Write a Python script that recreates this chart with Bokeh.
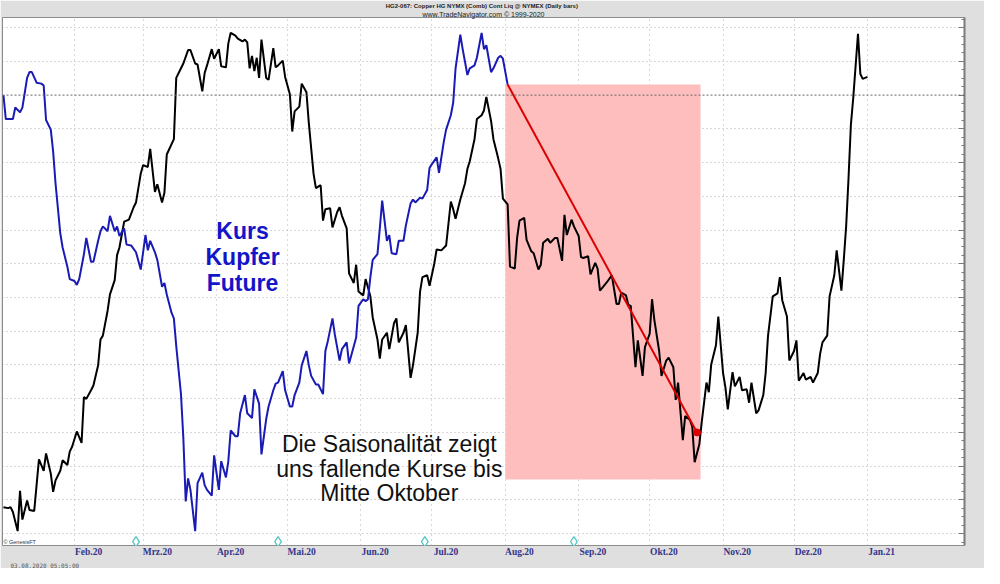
import pandas as pd
from bokeh.plotting import figure
from bokeh.models import Range1d, FixedTicker, LinearAxis, Span, Label, Grid, Title
from bokeh.embed import file_html
from bokeh.resources import INLINE

# ---------------- data ----------------
# x: days since 2020-01-01, y: chart index units (0 = bottom of panel)
BASE = pd.Timestamp("2020-01-01")

blue_days = [1, 2, 5, 6, 8, 9, 11, 12, 13, 15, 17, 18, 19, 21, 22, 23, 25, 26, 28, 29,
             31, 32, 33, 35, 36, 38, 39, 41, 42, 43, 45, 46, 48, 49, 50, 52, 53, 55, 57, 59,
             61, 62, 63, 65, 66, 68, 69, 70, 72, 73, 74, 76, 77, 78, 79, 80, 82, 83, 85, 86,
             87, 89, 90, 92, 93, 95, 96, 97, 99, 100, 101, 103, 104, 106, 107, 109, 110, 112, 113, 115,
             116, 117, 119, 120, 122, 123, 124, 126, 127, 129, 130, 131, 133, 134, 136, 137, 138, 140, 141, 143,
             144, 146, 147, 149, 150, 151, 153, 154, 155, 156, 157, 159, 160, 161, 163, 164, 165, 167, 168, 170,
             171, 173, 174, 175, 177, 178, 180, 181, 182, 184, 185, 187, 188, 190, 191, 192, 194, 195, 197, 198,
             200, 201, 203, 204, 205, 207, 208, 210, 211, 212, 214]
blue_vals = [470, 445, 445, 457, 452, 457, 488, 494, 494, 483, 482, 480, 444, 434, 411, 378, 326, 311, 291, 278,
             276, 272, 278, 304, 321, 296, 296, 318, 328, 333, 328, 344, 328, 333, 323, 331, 314, 313, 306, 288,
             324, 308, 318, 306, 298, 270, 274, 262, 243, 237, 208, 158, 112, 46, 70, 58, 15, 65, 76, 63,
             58, 52, 94, 58, 88, 71, 88, 120, 114, 114, 138, 157, 138, 133, 163, 148, 95, 132, 145, 162,
             169, 170, 182, 162, 145, 145, 157, 170, 188, 203, 188, 177, 168, 168, 158, 203, 213, 237, 220, 193,
             205, 212, 190, 208, 217, 250, 257, 255, 257, 280, 298, 304, 331, 360, 318, 324, 305, 304, 318, 318,
             334, 357, 361, 358, 363, 362, 371, 394, 398, 405, 389, 421, 434, 449, 462, 498, 533, 518, 491, 498,
             501, 509, 535, 518, 522, 494, 498, 509, 511, 508, 481]

black_days = [1, 3, 4, 5, 7, 8, 9, 11, 12, 14, 15, 16, 18, 19, 21, 22, 23, 25, 26, 28,
              29, 30, 32, 34, 35, 36, 38, 39, 41, 42, 43, 45, 46, 48, 49, 50, 52, 54, 56, 57,
              59, 60, 62, 63, 65, 66, 68, 69, 70, 73, 74, 76, 77, 79, 80, 82, 83, 85, 86, 87,
              89, 90, 92, 93, 95, 96, 97, 99, 100, 102, 103, 104, 105, 106, 107, 108, 109, 110, 112, 113,
              115, 116, 117, 119, 120, 122, 123, 124, 126, 127, 129, 130, 132, 133, 135, 136, 137, 139, 140, 142,
              143, 144, 146, 147, 149, 150, 151, 153, 154, 156, 157, 159, 160, 161, 163, 164, 166, 167, 168, 170,
              171, 173, 174, 176, 177, 178, 180, 181, 183, 184, 186, 188, 190, 191, 192, 194, 196, 197, 198, 200,
              201, 203, 204, 205, 207, 208, 210, 211, 212, 214, 215, 217, 218, 219, 221, 222, 224, 225, 227, 228,
              229, 231, 232, 234, 235, 237, 238, 239, 241, 242, 244, 245, 246, 248, 249, 251, 252, 253, 255, 256,
              258, 260, 261, 262, 264, 265, 266, 268, 269, 271, 272, 274, 275, 276, 278, 279, 281, 282, 284, 285,
              286, 288, 289, 291, 292, 293, 295, 296, 298, 299, 300, 302, 303, 305, 306, 307, 309, 310, 312, 313,
              315, 316, 317, 319, 320, 322, 323, 324, 326, 328, 329, 330, 332, 333, 335, 336, 337, 339, 340, 342,
              343, 345, 346, 347, 349, 350, 352, 353, 355, 356, 357, 358, 359, 360, 362, 363, 364, 366]
black_vals = [40, 39, 40, 35, 15, 57, 27, 47, 37, 36, 63, 90, 78, 96, 75, 56, 68, 78, 89, 84,
              98, 103, 119, 107, 155, 153, 162, 167, 188, 215, 219, 245, 262, 277, 303, 311, 338, 340, 353, 358,
              388, 397, 395, 414, 369, 377, 358, 368, 408, 424, 488, 498, 503, 517, 517, 503, 502, 474, 493, 501,
              518, 508, 518, 500, 499, 524, 535, 532, 529, 526, 528, 525, 498, 511, 495, 509, 488, 528, 488, 486,
              519, 499, 501, 506, 489, 471, 432, 453, 458, 482, 473, 441, 388, 373, 376, 339, 351, 352, 332, 348,
              353, 344, 331, 284, 274, 293, 265, 261, 278, 260, 238, 215, 195, 215, 222, 205, 232, 237, 212, 222,
              230, 175, 188, 222, 265, 280, 282, 271, 294, 309, 308, 313, 359, 351, 341, 361, 378, 393, 401, 424,
              445, 449, 454, 468, 443, 424, 404, 393, 362, 356, 291, 289, 321, 339, 342, 319, 307, 305, 288, 293,
              316, 320, 316, 321, 321, 297, 345, 324, 340, 333, 323, 301, 300, 302, 283, 295, 289, 266, 272, 275,
              282, 252, 252, 264, 261, 251, 250, 186, 214, 177, 207, 221, 257, 235, 203, 177, 193, 196, 186, 152,
              170, 110, 135, 131, 124, 87, 106, 129, 170, 160, 189, 209, 239, 180, 165, 142, 181, 166, 176, 162,
              163, 149, 170, 138, 141, 157, 180, 219, 260, 263, 280, 256, 239, 193, 203, 214, 172, 180, 173, 176,
              170, 180, 200, 212, 219, 260, 282, 308, 266, 298, 333, 383, 439, 467, 534, 492, 487, 489]

# seasonal window (shaded) and trend arrow
window_days = [213, 295.5]
window_vals = [69, 481]
trend_days = [214, 294]
trend_vals = [481, 118]

# event markers along the bottom
event_days = [57, 117, 179, 242]

# month starts (days since 2020-01-01) and their labels
month_days = [31, 60, 91, 121, 152, 182, 213, 244, 274, 305, 335, 366]
month_labels = ["Feb.20", "Mrz.20", "Apr.20", "Mai.20", "Jun.20", "Jul.20",
                "Aug.20", "Sep.20", "Okt.20", "Nov.20", "Dez.20", "Jan.21"]

ref_level = 470          # dashed reference line
grid_step = 35.2
DAY_START, DAY_END = 0.6, 407.0


def to_dt(days):
    return [BASE + pd.Timedelta(days=float(d)) for d in days]


def ms(d):
    return (BASE + pd.Timedelta(days=float(d))).value / 1e6


# ---------------- figure ----------------
p = figure(width=984, height=568, x_axis_type="datetime",
           x_range=Range1d(ms(DAY_START), ms(DAY_END)),
           y_range=Range1d(0, 551),
           x_axis_location=None, y_axis_location=None,
           output_backend="svg", toolbar_location=None,
           min_border_left=2, min_border_right=20, min_border_top=0, min_border_bottom=0,
           border_fill_color="#dfdfdf", background_fill_color="white",
           outline_line_color="#8c8c8c", outline_line_width=1)
p.grid.visible = False
p.extra_x_ranges = {"days": Range1d(DAY_START, DAY_END)}

levels = [ref_level + grid_step * k for k in range(-13, 3)]
minor_levels = [ref_level + grid_step / 4 * k for k in range(-53, 10)]

xg = Grid(dimension=0, ticker=FixedTicker(ticks=month_days), x_range_name="days",
          grid_line_color="#b0b0b0", grid_line_dash="1 4", grid_line_width=1)
yg = Grid(dimension=1, ticker=FixedTicker(ticks=[v for v in levels if v != ref_level]),
          grid_line_color="#b0b0b0", grid_line_dash="1 3", grid_line_width=1)
p.add_layout(xg)
p.add_layout(yg)
p.add_layout(Span(location=ref_level, dimension="width", line_color="#666666",
                  line_dash="2 2", line_width=1))

# right-hand tick scale (no labels, as in the original)
raxis = LinearAxis(ticker=FixedTicker(ticks=levels, minor_ticks=minor_levels),
                   major_label_overrides={v: "" for v in levels},
                   major_label_standoff=0,
                   axis_line_color="#7a7a7a", axis_line_width=2,
                   major_tick_in=6, major_tick_out=0, minor_tick_in=3, minor_tick_out=0,
                   major_tick_line_color="#7a7a7a", minor_tick_line_color="#7a7a7a")
p.add_layout(raxis, "right")

# month labels: left-aligned at each month start (label centred a few days later)
label_pos = [d + 6 for d in month_days]
xaxis = LinearAxis(x_range_name="days", ticker=FixedTicker(ticks=label_pos),
                   major_label_overrides=dict(zip(label_pos, month_labels)),
                   major_label_standoff=1,
                   major_label_text_font="Liberation Serif", major_label_text_font_size="9.5px",
                   major_label_text_font_style="bold", major_label_text_color="#34348a",
                   axis_line_color=None, major_tick_line_color=None, minor_tick_line_color=None,
                   major_tick_in=0, major_tick_out=0, minor_tick_in=0, minor_tick_out=0)
p.add_layout(xaxis, "below")

# header and footer
p.add_layout(Title(text="www.TradeNavigator.com \u00a9 1999-2020", align="center",
                   text_font="Liberation Sans", text_font_size="7px", text_font_style="normal",
                   text_color="#222222", standoff=0), "above")
p.add_layout(Title(text="HG2-067:  Copper HG NYMX (Comb) Cont Liq @ NYMEX  (Daily bars)", align="center",
                   text_font="Liberation Sans", text_font_size="6px", text_font_style="bold",
                   text_color="#222222", standoff=0), "above")
p.add_layout(Title(text="03.08.2020 05:05:00", align="left", offset=8,
                   text_font="DejaVu Sans Mono", text_font_size="6px", text_font_style="normal",
                   text_color="#555555", standoff=0), "below")

# shaded seasonal window
p.quad(left=[ms(window_days[0])], right=[ms(window_days[1])],
       bottom=[window_vals[0]], top=[window_vals[1]],
       fill_color="#ffbebe", line_color=None)

# lines
p.line(to_dt(black_days), black_vals, line_color="black", line_width=2)
p.line(to_dt(blue_days), blue_vals, line_color="#1a1ab4", line_width=2)
p.line(to_dt(trend_days), trend_vals, line_color="#dd0000", line_width=2)
p.scatter(to_dt(trend_days[-1:]), trend_vals[-1:], marker="circle", size=7,
          fill_color="#dd0000", line_color="#dd0000")

# event markers
p.scatter(to_dt(event_days), [4] * len(event_days), marker="diamond", size=10,
          fill_color="white", line_color="#4cc4c4", line_width=1.2)

p.add_layout(Label(x=ms(1), y=1, text="\u00a9 GenesisFT", text_font="Liberation Sans",
                   text_font_size="5.5px", text_color="#333333",
                   text_align="left", text_baseline="bottom"))

# annotations
for txt, yy in zip(["Kurs", "Kupfer", "Future"], [328, 301, 274]):
    p.add_layout(Label(x=ms(102), y=yy, text=txt, text_font="Liberation Sans",
                       text_font_size="23px", text_font_style="bold", text_color="#1414c8",
                       text_align="center", text_baseline="middle"))

for txt, yy in zip(["Die Saisonalität zeigt", "uns fallende Kurse bis", "Mitte Oktober"], [106, 80, 55]):
    p.add_layout(Label(x=ms(164), y=yy, text=txt, text_font="Liberation Sans",
                       text_font_size="23px", text_color="#111111",
                       text_align="center", text_baseline="middle"))

open("out.html", "w").write(file_html(p, INLINE))
